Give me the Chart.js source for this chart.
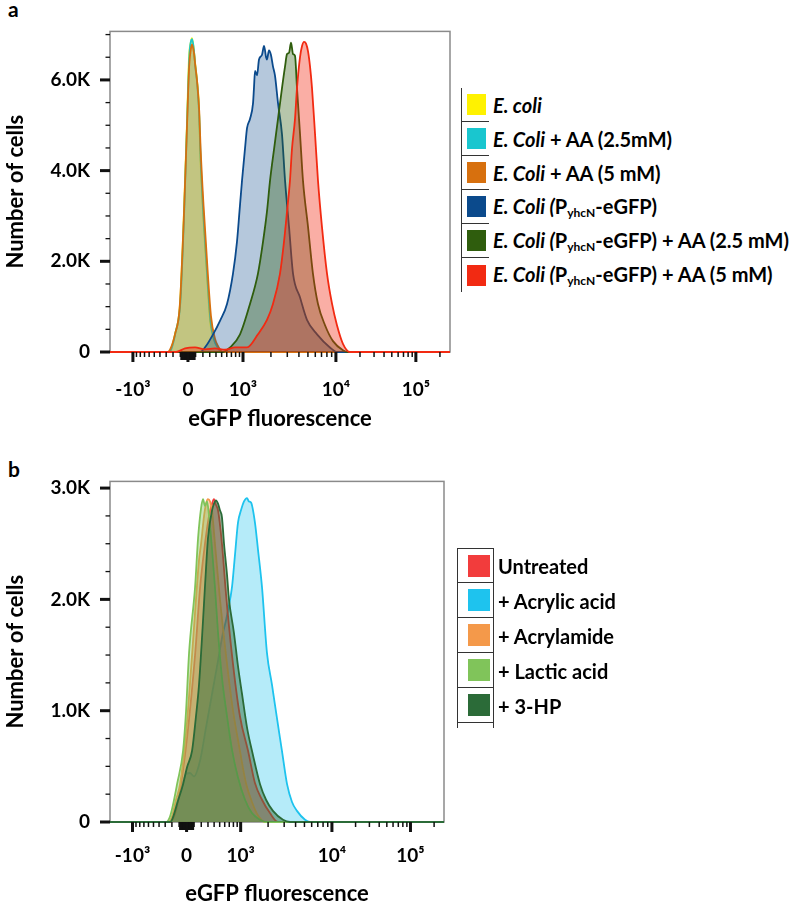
<!DOCTYPE html>
<html>
<head>
<meta charset="utf-8">
<script src="https://cdn.jsdelivr.net/npm/chart.js@4.4.0/dist/chart.umd.min.js"></script>
<style>
  html, body { margin: 0; padding: 0; background: #fff; overflow: hidden; }
  #page { position: relative; width: 798px; height: 904px; font-family: Lato, "Open Sans", sans-serif; }
  .tag { position: absolute; left: 8px; font: bold 21px Lato, sans-serif; color: #000; }
  canvas { position: absolute; left: 0; }
  .legend { position: absolute; font: bold 20px Lato, sans-serif; color: #000; }
  .legend .row { display: flex; align-items: center; white-space: nowrap; }
  .legend .cell { box-sizing: border-box; display: flex; align-items: center; }
  .legend .sw { display: block; }
  .legend sub { font-size: 12px; vertical-align: -3px; }
  #legA { left: 461px; top: 88px; }
  #legA .cell { width: 28px; height: 34px; border-left: 1.5px solid #333; }
  #legA .row:not(:last-child) .cell { border-bottom: 1.5px solid #333; }
  #legA .sw { width: 19px; height: 21px; margin-left: 5px; }
  #legA .txt { margin-left: 4px; }
  #legB { left: 457px; top: 548px; }
  #legB .cell { width: 37px; height: 35px; border: 1.5px solid #333; border-top: none; }
  #legB .row:first-child .cell { border-top: 1.5px solid #333; }
  #legB::after { content: ""; display: block; box-sizing: border-box; width: 37px; height: 5px;
                 border-left: 1.5px solid #333; border-right: 1.5px solid #333; }
  #legB .sw { width: 22px; height: 22px; margin-left: 9.5px; }
  #legB .txt { margin-left: 4px; }
</style>
</head>
<body>
<div id="page">
  <div class="tag" style="top:-4px">a</div>
  <canvas id="chartA" width="460" height="440" style="top:0"></canvas>
  <div id="legA" class="legend"></div>

  <div class="tag" style="top:456px">b</div>
  <canvas id="chartB" width="460" height="454" style="top:450px"></canvas>
  <div id="legB" class="legend"></div>
</div>

<script>
// x = display channel (biexponential scale, 0-256), y = number of cells in K
const xTickValues = [-1000, 0, 1000, 10000, 100000];
const xTickLabels = ['-10³', '0', '10³', '10⁴', '10⁵'];

// ---- panel a
const aNames = ['E. coli', 'E. Coli + AA (2.5mM)', 'E. Coli + AA (5 mM)',
  'E. Coli (PyhcN-eGFP)', 'E. Coli (PyhcN-eGFP) + AA (2.5 mM)', 'E. Coli (PyhcN-eGFP) + AA (5 mM)'];
const aLegend = ['<i>E. coli</i>', '<i>E. Coli</i> + AA (2.5mM)', '<i>E. Coli</i> + AA (5 mM)',
  '<i>E. Coli (</i>P<sub>yhcN</sub>-eGFP)',
  '<i>E. Coli (</i>P<sub>yhcN</sub>-eGFP) + AA (2.5 mM)',
  '<i>E. Coli (</i>P<sub>yhcN</sub>-eGFP) + AA (5 mM)'];
const aColors = ['#fff200', '#19c6cf', '#d7700e', '#0b4a8c', '#2f5d0d', '#f22a12'];
const aAlpha = [0.35, 0.3, 0.3, 0.3, 0.35, 0.38];

const ecoli = [[0,0],[43.7,0],[45.2,0.02],[48.9,0.39],[52.7,1.06],[55.7,3.1],[58.0,5.1],[59.5,6.5],[61.0,6.85],
  [61.7,6.92],[63.0,6.7],[64.0,6.4],[65.5,6.0],[67.0,5.4],[67.8,4.5],[70.0,3.1],[73.0,1.7],[75.3,0.7],[78.0,0.3],
  [80.6,0.15],[84.3,0],[256,0]];
const ecoliAA25 = [[0,0],[44.5,0],[46,0.05],[49.5,0.45],[53,1.1],[56,3.2],[58.3,5.3],[59.8,6.55],[61.2,6.88],
  [61.9,6.9],[63.2,6.65],[64.2,6.3],[65.7,5.9],[67.2,5.2],[68.2,4.3],[70.4,3.0],[73.4,1.6],[75.8,0.65],[78.6,0.25],
  [81,0.1],[84,0],[256,0]];
const ecoliAA5 = [[0,0],[43.5,0],[45.2,0.05],[49,0.4],[52.5,1.0],[55.5,2.9],[58,5.0],[59.6,6.3],[61.0,6.7],
  [61.8,6.78],[63.2,6.6],[64.3,6.3],[65.8,5.9],[67.2,5.3],[68.2,4.5],[70.5,3.2],[73.5,1.8],[76,0.8],[79,0.3],
  [81.5,0.12],[84.8,0],[256,0]];
const pyhcn = [[0,0],[67.8,0],[72,0.12],[77.6,0.39],[83,0.7],[88.1,1.06],[92.6,1.73],[95.6,2.43],[97.5,3.1],
  [99.4,3.78],[101.6,4.47],[103.2,4.94],[105.4,5.14],[107.7,5.49],[108.4,5.82],[109.2,6.2],[110.7,6.1],[112.2,6.45],
  [114.4,6.55],[116.0,6.75],[117.5,6.5],[118.2,6.45],[119.7,6.65],[121.2,6.55],[122.7,6.3],[124.2,6.1],[126.5,5.49],
  [129.5,4.8],[131.8,3.78],[134.8,2.76],[137.8,1.73],[143.1,1.2],[148.3,0.71],[155.9,0.39],[165.6,0.1],[170.9,0],[256,0]];
const pyhcnAA25 = [[0,0],[85.1,0],[90.4,0.1],[97.9,0.39],[105.4,1.06],[111.4,1.73],[115.2,2.43],[118.2,3.1],
  [120.5,3.78],[123.5,4.47],[126.5,5.14],[129.5,5.82],[131.8,6.3],[133.3,6.57],[134.8,6.6],[136.3,6.82],[137.8,6.57],
  [139.3,6.53],[140.8,5.82],[143.1,4.8],[145.3,3.78],[149.1,2.76],[152.8,1.73],[156.6,1.06],[161.9,0.59],[167.9,0.24],
  [175.4,0.04],[179.2,0],[256,0]];
const pyhcnAA5 = [[0,0],[49.7,0],[56.5,0.08],[64.0,0.1],[71.5,0.06],[79.1,0.08],[86.6,0.05],[94.1,0.1],[103.2,0.1],
  [111.4,0.39],[118.2,0.71],[122.7,1.06],[128.0,1.73],[131.0,2.43],[133.3,3.1],[135.5,3.78],[137.0,4.47],[139.3,5.14],
  [140.8,5.82],[143.1,6.51],[144.6,6.75],[146.1,6.84],[147.6,6.8],[149.1,6.63],[150.6,6.3],[152.1,5.82],[154.4,4.8],
  [156.6,3.78],[159.6,2.76],[163.4,1.73],[167.2,1.06],[170.9,0.59],[175.4,0.18],[180.7,0],[256,0]];

// ---- panel b
const bNames = ['Untreated', '+ Acrylic acid', '+ Acrylamide', '+ Lactic acid', '+ 3-HP'];
const bColors = ['#f23c3c', '#1ec3ee', '#f4994a', '#80c45a', '#2b6b38'];
const bAlpha = [0.42, 0.33, 0.42, 0.42, 0.48];

const untreated = [[0,0],[46.0,0],[49.1,0.05],[52.1,0.18],[54.4,0.34],[59.0,0.75],[65.2,1.5],[69.0,2.1],[72.8,2.5],
  [75.9,2.75],[78.2,2.86],[79.7,2.9],[81.2,2.85],[82.8,2.8],[85.8,2.5],[88.9,2.05],[93.5,1.5],[99.6,0.95],[105.8,0.64],
  [111.1,0.35],[116.5,0.2],[122.6,0.08],[128.8,0],[256,0]];
const acrylicAcid = [[0,0],[46.0,0],[50.6,0.15],[54.4,0.3],[58.3,0.43],[61.3,0.44],[64.4,0.41],[69.0,0.55],[73.6,0.85],
  [78.2,1.15],[82.8,1.45],[86.6,1.7],[88.9,1.81],[90.4,1.9],[93.5,2.11],[95.8,2.4],[98.1,2.69],[100.4,2.8],[102.7,2.88],
  [105.0,2.91],[106.5,2.88],[108.1,2.87],[111.1,2.69],[113.4,2.45],[116.5,2.11],[120.3,1.52],[124.2,1.23],[128.0,0.93],
  [131.8,0.64],[135.7,0.34],[139.5,0.18],[143.3,0.1],[149.5,0.02],[153.3,0],[256,0]];
const acrylamide = [[0,0],[44.5,0],[47.5,0.05],[50.6,0.2],[53.7,0.34],[58.3,0.8],[62.9,1.5],[65.9,2.0],[68.2,2.35],
  [69.8,2.5],[72.1,2.75],[73.6,2.86],[75.1,2.9],[76.7,2.88],[78.2,2.8],[79.7,2.6],[81.2,2.4],[84.3,2.0],[88.9,1.5],
  [94.3,1.0],[99.6,0.64],[104.2,0.35],[108.8,0.18],[113.4,0.06],[118.8,0],[256,0]];
const lacticAcid = [[0,0],[42.9,0],[46.0,0.05],[49.1,0.2],[51.4,0.34],[56.0,0.64],[58.3,1.0],[60.6,1.52],[65.2,2.11],
  [67.5,2.55],[69.8,2.82],[71.3,2.9],[72.8,2.84],[74.4,2.88],[75.9,2.75],[78.2,2.45],[80.5,2.1],[82.8,1.7],[85.8,1.3],
  [89.7,0.95],[93.5,0.65],[98.1,0.4],[103.5,0.2],[108.8,0.08],[115.0,0.02],[118.8,0],[256,0]];
const hp3 = [[0,0],[46.0,0],[47.5,0.02],[52.1,0.19],[56.0,0.34],[59.0,0.49],[62.9,0.64],[65.9,0.95],[68.2,1.23],
  [71.3,1.81],[73.6,2.28],[75.1,2.55],[78.2,2.8],[79.7,2.86],[81.2,2.89],[82.8,2.86],[84.3,2.8],[85.8,2.74],[87.4,2.5],
  [89.7,2.22],[91.2,2.0],[95.0,1.7],[98.1,1.4],[101.2,1.15],[105.0,0.85],[109.6,0.6],[115.0,0.34],[119.6,0.2],
  [124.9,0.1],[132.6,0.02],[138.0,0],[256,0]];

// biexponential display: fluorescence value -> channel
function toCh(v) {
  if (v <= 1000) return 58.7 + 28.46 * Math.asinh(v / 493);
  if (v <= 10000) return 100.1 + 70.0 * Math.log10(v / 1000);
  return 170.1 + 60.2 * Math.log10(v / 10000);
}

// small ticks of the flow axis
const xMinor = [];
for (let d = 100; d <= 900; d += 100) xMinor.push(-d, d);
for (let m = 2; m <= 9; m++) xMinor.push(m * 1000, m * 10000);
xMinor.push(200000);
const xZero = [];
for (let d = 10; d <= 90; d += 10) xZero.push(-d, d);

function rgba(hex, a) {
  const n = parseInt(hex.slice(1), 16);
  return 'rgba(' + (n >> 16) + ',' + ((n >> 8) & 255) + ',' + (n & 255) + ',' + a + ')';
}

function pts(pairs) {
  return pairs.map(p => ({ x: p[0], y: p[1] }));
}

const axisDeco = {
  id: 'axisDeco',
  beforeDatasetsDraw(chart) {
    const { ctx, chartArea: a } = chart;
    ctx.save();
    ctx.strokeStyle = '#8a8a8a';
    ctx.lineWidth = 1.5;
    ctx.strokeRect(a.left, a.top, a.width, a.height);
    ctx.restore();
  },
  afterDraw(chart, args, o) {
    const { ctx, chartArea: a, scales: { x, y } } = chart;
    ctx.save();
    ctx.strokeStyle = '#111';
    const vline = (px, len, w) => {
      ctx.lineWidth = w;
      ctx.beginPath(); ctx.moveTo(px, a.bottom); ctx.lineTo(px, a.bottom + len); ctx.stroke();
    };
    const hline = (py, len, w) => {
      ctx.lineWidth = w;
      ctx.beginPath(); ctx.moveTo(a.left - len, py); ctx.lineTo(a.left, py); ctx.stroke();
    };
    xMinor.forEach(v => vline(x.getPixelForValue(toCh(v)), 5, 1.5));
    xZero.forEach(v => vline(x.getPixelForValue(toCh(v)), 8, 1.6));
    xTickValues.forEach(v => vline(x.getPixelForValue(toCh(v)), 10, 3));
    for (let v = 0; v <= o.yMax + 1e-9; v += o.yMinor) hline(y.getPixelForValue(v), 4.5, 1.3);
    o.yMajor.forEach(v => hline(y.getPixelForValue(v), 10, 3));
    ctx.restore();
  }
};

const tickFont = { family: 'Lato', weight: 'bold', size: 19 };
const titleFont = { family: 'Lato', weight: 'bold', size: 22 };

function histo(id, sets, names, colors, alphas, o) {
  return new Chart(document.getElementById(id), {
    type: 'line',
    data: {
      datasets: sets.map((s, i) => ({
        label: names[i],
        data: pts(s),
        borderColor: colors[i],
        backgroundColor: rgba(colors[i], alphas[i]),
        borderWidth: 1.8,
        pointRadius: 0,
        fill: 'origin',
        cubicInterpolationMode: 'monotone',
        order: sets.length - i,
        clip: 4
      }))
    },
    options: {
      responsive: false,
      animation: false,
      devicePixelRatio: 1,
      layout: { padding: o.pad },
      plugins: {
        legend: { display: false },
        tooltip: { enabled: false },
        axisDeco: { yMax: o.yMax, yMajor: o.yMajor, yMinor: o.yMinor }
      },
      scales: {
        x: {
          type: 'linear', min: 0, max: 256,
          grid: { display: false, drawTicks: false },
          border: { display: false },
          afterBuildTicks: s => { s.ticks = xTickValues.map(v => ({ value: toCh(v) })); },
          afterFit: s => { s.height = o.xH; },
          ticks: { autoSkip: false, maxRotation: 0, padding: o.xPad, color: '#000', font: tickFont,
                   callback: (v, i) => xTickLabels[i] },
          title: { display: true, text: 'eGFP fluorescence', color: '#000', font: titleFont,
                   padding: { top: 0, bottom: o.titlePad } }
        },
        y: {
          type: 'linear', min: 0, max: o.yMax,
          grid: { display: false, drawTicks: false },
          border: { display: false },
          afterBuildTicks: s => { s.ticks = o.yMajor.map(v => ({ value: v })); },
          afterFit: s => { s.width = 110; },
          ticks: { padding: 20, color: '#000', font: tickFont,
                   callback: v => v === 0 ? '0' : v.toFixed(1) + 'K' },
          title: { display: true, text: 'Number of cells', color: '#000', font: titleFont,
                   padding: { top: 3, bottom: 0 } }
        }
      }
    },
    plugins: [axisDeco]
  });
}

function buildLegend(id, chart, texts) {
  const box = document.getElementById(id);
  chart.data.datasets.forEach((ds, i) => {
    const row = document.createElement('div');
    row.className = 'row';
    row.innerHTML = '<span class="cell"><span class="sw" style="background:' + ds.borderColor +
      '"></span></span><span class="txt">' + texts[i] + '</span>';
    box.appendChild(row);
  });
}

const chartA = histo('chartA', [ecoli, ecoliAA25, ecoliAA5, pyhcn, pyhcnAA25, pyhcnAA5],
  aNames, aColors, aAlpha,
  { pad: { top: 3, right: 10, left: 0, bottom: 0 }, xH: 88, xPad: 26, titlePad: 8,
    yMax: 7.07, yMajor: [0, 2, 4, 6], yMinor: 0.5 });
buildLegend('legA', chartA, aLegend);

// cyan drawn first so the treated group sits above it
const chartB = histo('chartB', [acrylicAcid, untreated, acrylamide, lacticAcid, hp3],
  [bNames[1], bNames[0], bNames[2], bNames[3], bNames[4]],
  [bColors[1], bColors[0], bColors[2], bColors[3], bColors[4]],
  [bAlpha[1], bAlpha[0], bAlpha[2], bAlpha[3], bAlpha[4]],
  { pad: { top: 25, right: 16, left: 0, bottom: 0 }, xH: 82, xPad: 22, titlePad: -3,
    yMax: 3.06, yMajor: [0, 1, 2, 3], yMinor: 0.25 });

// legend keeps the figure's order
const legB = document.getElementById('legB');
bNames.forEach((n, i) => {
  const row = document.createElement('div');
  row.className = 'row';
  row.innerHTML = '<span class="cell"><span class="sw" style="background:' + bColors[i] +
    '"></span></span><span class="txt">' + n + '</span>';
  legB.appendChild(row);
});
</script>
</body>
</html>
